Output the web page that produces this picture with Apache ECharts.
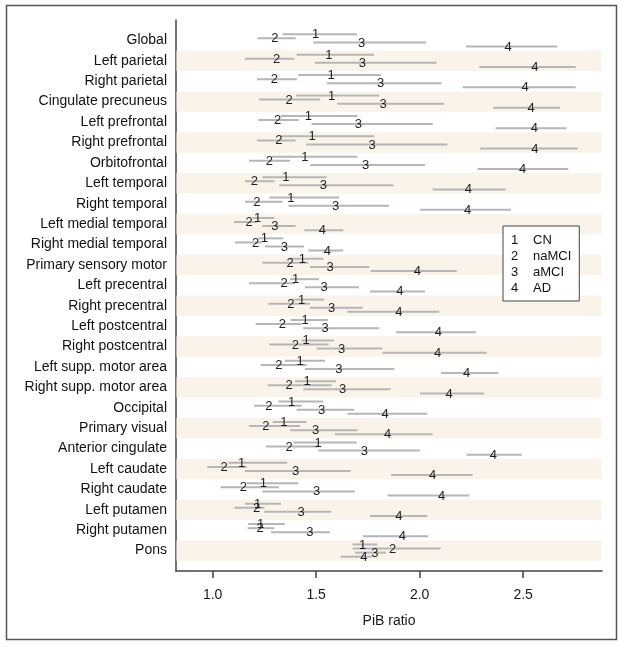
<!DOCTYPE html>
<html><head><meta charset="utf-8">
<script src="https://cdn.jsdelivr.net/npm/echarts@6/dist/echarts.min.js"></script>
<style>html,body{margin:0;padding:0;background:#fff}#c{width:623px;height:647px}</style>
</head><body><div id="c"></div>
<script>
const regions = ['Global','Left parietal','Right parietal','Cingulate precuneus','Left prefrontal','Right prefrontal','Orbitofrontal','Left temporal','Right temporal','Left medial temporal','Right medial temporal','Primary sensory motor','Left precentral','Right precentral','Left postcentral','Right postcentral','Left supp. motor area','Right supp. motor area','Occipital','Primary visual','Anterior cingulate','Left caudate','Right caudate','Left putamen','Right putamen','Pons'];

// CN (1)
const cnLo   = [1.337,1.406,1.414,1.403,1.330,1.325,1.285,1.240,1.274,1.192,1.221,1.374,1.374,1.390,1.377,1.430,1.349,1.398,1.317,1.290,1.390,1.076,1.164,1.156,1.172,1.676];
const cnMean = [1.498,1.562,1.572,1.575,1.462,1.481,1.446,1.354,1.378,1.217,1.250,1.433,1.401,1.430,1.447,1.451,1.422,1.457,1.381,1.344,1.510,1.140,1.245,1.217,1.232,1.725];
const cnHi   = [1.697,1.779,1.812,1.805,1.700,1.781,1.700,1.551,1.612,1.298,1.341,1.535,1.514,1.539,1.557,1.586,1.543,1.596,1.534,1.454,1.696,1.360,1.414,1.330,1.349,1.796];
// naMCI (2)
const naLo   = [1.217,1.156,1.214,1.225,1.221,1.214,1.176,1.156,1.156,1.103,1.108,1.240,1.176,1.270,1.208,1.274,1.232,1.266,1.200,1.175,1.257,0.974,1.039,1.105,1.169,1.676];
const naMean = [1.301,1.309,1.298,1.370,1.314,1.320,1.274,1.201,1.214,1.176,1.208,1.374,1.345,1.378,1.337,1.400,1.320,1.370,1.272,1.257,1.370,1.056,1.148,1.213,1.229,1.870];
const naHi   = [1.401,1.395,1.407,1.520,1.417,1.401,1.374,1.298,1.337,1.213,1.237,1.462,1.398,1.470,1.430,1.560,1.454,1.575,1.430,1.422,1.510,1.164,1.320,1.250,1.298,2.101];
// aMCI (3)
const amLo   = [1.486,1.494,1.551,1.602,1.478,1.451,1.473,1.322,1.366,1.240,1.253,1.470,1.446,1.470,1.438,1.502,1.446,1.438,1.406,1.374,1.510,1.156,1.240,1.250,1.282,1.688];
const amMean = [1.720,1.723,1.812,1.824,1.704,1.771,1.739,1.535,1.594,1.301,1.346,1.567,1.539,1.575,1.543,1.623,1.610,1.628,1.527,1.498,1.733,1.401,1.502,1.427,1.470,1.784];
const amHi   = [2.031,2.082,2.106,2.119,2.063,2.134,2.026,1.873,1.852,1.401,1.441,1.757,1.707,1.725,1.805,1.820,1.878,1.860,1.684,1.700,2.002,1.667,1.688,1.572,1.567,1.837];
// AD (4)
const adLo   = [2.224,2.288,2.208,2.356,2.367,2.293,2.280,2.063,2.002,1.443,1.462,1.763,1.760,1.651,1.886,1.820,2.103,2.002,1.651,1.591,2.227,1.862,1.845,1.760,1.725,1.618];
const adMean = [2.428,2.557,2.509,2.538,2.554,2.557,2.498,2.235,2.232,1.530,1.554,1.989,1.905,1.900,2.090,2.087,2.227,2.142,1.833,1.845,2.356,2.063,2.106,1.900,1.916,1.731];
const adHi   = [2.665,2.754,2.754,2.678,2.710,2.763,2.718,2.415,2.441,1.631,1.631,2.179,2.026,2.095,2.272,2.324,2.380,2.312,2.037,2.063,2.493,2.256,2.240,2.037,2.042,1.768];

const groupNames  = ['CN','naMCI','aMCI','AD'];
const groupDigits = ['1','2','3','4'];
const xTicks = [1.0, 1.5, 2.0, 2.5];

const groupLo   = [cnLo, naLo, amLo, adLo];
const groupMean = [cnMean, naMean, amMean, adMean];
const groupHi   = [cnHi, naHi, amHi, adHi];
const offsets = [-0.3, -0.1, 0.1, 0.3];
const stripeRows = regions.map((r, i) => i).filter(i => i % 2 === 1);

const FONT = '"Liberation Sans", Arial, Helvetica, sans-serif';
const chart = echarts.init(document.getElementById('c'), null, {renderer: 'canvas'});

const series = [];
series.push({
  type: 'custom', name: 'stripes', z: 1, silent: true,
  data: stripeRows.map(i => [1, i]),
  encode: {x: 0, y: 1},
  renderItem: (params, api) => {
    const row = api.value(1);
    const a = api.coord([1, row - 0.5]);
    const b = api.coord([1, row + 0.5]);
    const cs = params.coordSys;
    return {type: 'rect', shape: {x: cs.x + 0.5, y: a[1], width: cs.width - 1, height: b[1] - a[1]},
            style: {fill: '#faf3e9'}};
  }
});
groupNames.forEach((name, gi) => {
  const data = regions.map((r, i) => [groupMean[gi][i], i, groupLo[gi][i], groupHi[gi][i]]);
  series.push({
    type: 'custom', name: name + ' interval', z: 2, silent: true,
    data: data, encode: {x: 0, y: 1},
    renderItem: (params, api) => {
      const y = api.value(1) + offsets[gi];
      const p1 = api.coord([api.value(2), y]);
      const p2 = api.coord([api.value(3), y]);
      return {type: 'line', shape: {x1: p1[0], y1: p1[1], x2: p2[0], y2: p2[1]},
              style: {stroke: '#b6b6b6', lineWidth: 2}};
    }
  });
});
groupNames.forEach((name, gi) => {
  const data = regions.map((r, i) => [groupMean[gi][i], i]);
  series.push({
    type: 'custom', name: name, z: 3, silent: true,
    data: data, encode: {x: 0, y: 1},
    renderItem: (params, api) => {
      const p = api.coord([api.value(0), api.value(1) + offsets[gi]]);
      return {type: 'text', x: p[0], y: p[1] + 0.5,
              style: {text: groupDigits[gi], fill: '#1e1e1e', font: '13px ' + FONT,
                      align: 'center', verticalAlign: 'middle'}};
    }
  });
});

chart.setOption({
  animation: false,
  backgroundColor: '#fff',
  textStyle: {fontFamily: FONT},
  grid: {left: 176, right: 21, top: 20, bottom: 76},
  xAxis: {
    type: 'value', min: 0.823, max: 2.881,
    splitLine: {show: false},
    axisLine: {show: true, onZero: false, lineStyle: {color: '#444', width: 1.5}},
    axisTick: {show: true, customValues: xTicks, length: 7, lineStyle: {color: '#444', width: 1.5}},
    axisLabel: {customValues: xTicks, formatter: v => Number(v).toFixed(1), fontSize: 14, color: '#1a1a1a', margin: 17, fontFamily: FONT},
    name: 'PiB ratio', nameLocation: 'middle', nameGap: 43,
    nameTextStyle: {fontSize: 14, color: '#1a1a1a', fontFamily: FONT}
  },
  yAxis: {
    type: 'value', inverse: true, min: -1, max: 26, interval: 1,
    splitLine: {show: false},
    axisLine: {show: true, onZero: false, lineStyle: {color: '#444', width: 1.5}},
    axisTick: {show: false},
    axisLabel: {fontSize: 14, color: '#111', margin: 9, fontFamily: FONT,
                formatter: v => { const k = Math.round(v); return regions[k] !== undefined ? regions[k] : ''; }}
  },
  legend: {
    data: groupNames,
    orient: 'vertical', left: 503, top: 226,
    itemWidth: 0, itemHeight: 0, itemGap: 3,
    selectedMode: false,
    backgroundColor: '#fff', borderColor: '#444', borderWidth: 1,
    padding: [8, 8, 6, 3],
    formatter: n => '{d|' + groupDigits[groupNames.indexOf(n)] + '}{n|' + n + '}',
    textStyle: {fontSize: 13, color: '#111', fontFamily: FONT,
                rich: {d: {width: 22, fontSize: 13, color: '#111', fontFamily: FONT},
                       n: {fontSize: 13, color: '#111', fontFamily: FONT}}}
  },
  graphic: [{
    type: 'rect', silent: true, z: 100,
    shape: {x: 6.5, y: 5.5, width: 610, height: 634},
    style: {fill: 'none', stroke: '#555', lineWidth: 1.5}
  }],
  series: series
});
</script></body></html>
